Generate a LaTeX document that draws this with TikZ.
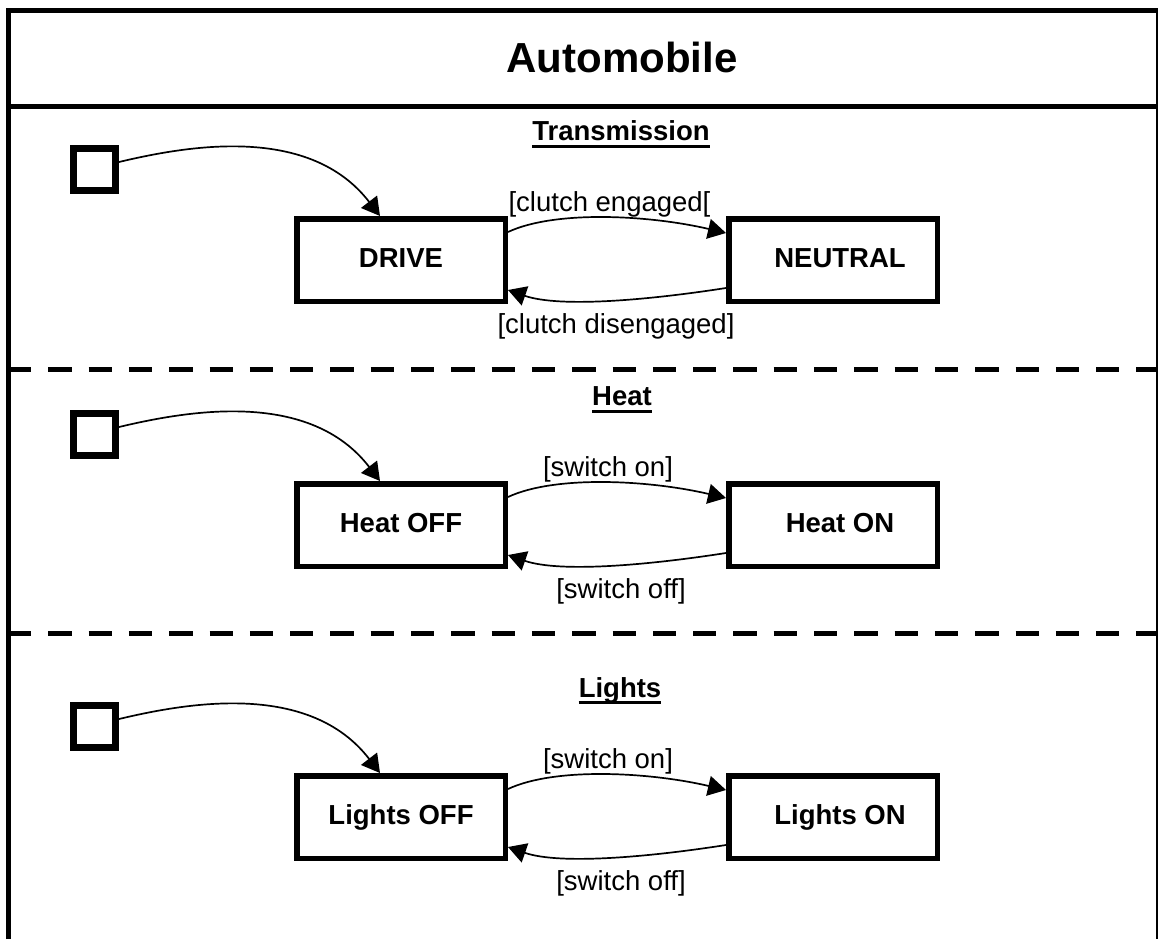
\documentclass[tikz,border=0pt]{standalone}
\usepackage{fontspec}
\setmainfont{Liberation Sans}
\usetikzlibrary{arrows.meta}
\newcommand{\mkregion}[7]{%
  \node[initsq] (#1i) at (94.5,169.5) {};
  \node[statebox] (#1a) at (401,260) {#2};
  \node[statebox] (#1b) at (833,260) {\hspace*{14pt}#3};
  \draw[trans] (#1i.17) .. controls +(71,-17) and +(-70,-91) .. ([xshift=-21pt]#1a.north);
  \draw[trans] ([yshift=28pt]#1a.east) .. controls +(47,-22) and +(-77,-18) .. ([yshift=27pt]#1b.west);
  \draw[trans] ([yshift=-28pt]#1b.west) .. controls +(-77,12) and +(52,18) .. ([yshift=-30pt]#1a.east);
  \node[guard] (#1u) at (#5,211) {#4};
  \node[guard] (#1d) at (#7,333) {#6};
}
\begin{document}
\begin{tikzpicture}[x=1pt,y=-1pt,
  statebox/.style={draw, line width=5.5pt, minimum width=208.5pt, minimum height=82.5pt, inner sep=0pt,
    font=\fontsize{27.5}{30}\selectfont\bfseries, text height=20pt, text depth=6pt},
  initsq/.style={draw, line width=7pt, minimum size=42pt, inner sep=0pt},
  trans/.style={line width=1.7pt, -{Triangle[length=18pt,width=20pt]}},
  guard/.style={font=\fontsize{27.5}{30}\selectfont, anchor=base, inner sep=0pt},
  regiontitle/.style={font=\fontsize{27.5}{30}\selectfont\bfseries, anchor=base, inner sep=0pt},
  ul/.style={line width=3pt},
  sepline/.style={line width=5pt, dash pattern=on 23.3pt off 17pt}
]
\useasboundingbox (0,0) rectangle (1158,939);
% frame
\draw[line width=4.5pt] (8.5,939) -- (8.5,10.5) -- (1158,10.5);
\draw[line width=2pt] (1157,10.5) -- (1157,939);
\draw[line width=4.5pt] (8.5,106.3) -- (1158,106.3);
\draw[sepline] (8,369) -- (1158,369);
\draw[sepline] (8,633.3) -- (1158,633.3);
% title
\node[font=\fontsize{42}{48}\selectfont\bfseries, anchor=base, inner sep=0pt] (title) at (622,73) {Automobile};
% region titles
\node[regiontitle] (tt) at (621,140.5) {Transmission};
\draw[ul] ([yshift=-5.5pt]tt.base west) -- ([yshift=-5.5pt]tt.base east);
\node[regiontitle] (ht) at (622,405.7) {Heat};
\draw[ul] ([yshift=-5.5pt]ht.base west) -- ([yshift=-5.5pt]ht.base east);
\node[regiontitle] (lt) at (620,697) {Lights};
\draw[ul] ([yshift=-5.5pt]lt.base west) -- ([yshift=-5.5pt]lt.base east);
% regions
\mkregion{t}{DRIVE}{NEUTRAL}{[clutch engaged[}{609.5}{[clutch disengaged]}{616}
\begin{scope}[yshift=-265pt]
\mkregion{h}{Heat OFF}{Heat ON}{[switch on]}{608}{[switch off]}{621}
\end{scope}
\begin{scope}[yshift=-557pt]
\mkregion{l}{Lights OFF}{Lights ON}{[switch on]}{608}{[switch off]}{621}
\end{scope}
\end{tikzpicture}
\end{document}
